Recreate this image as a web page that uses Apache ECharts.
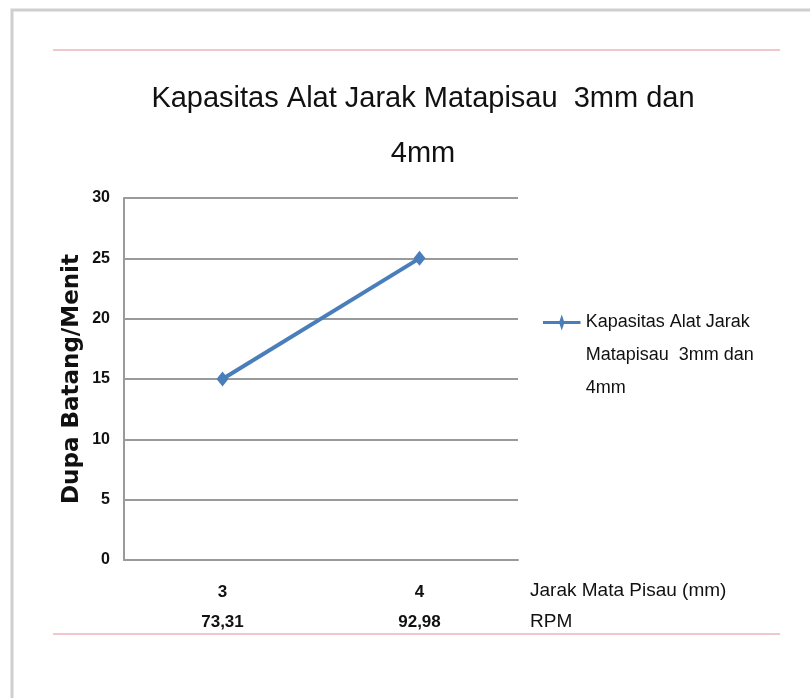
<!DOCTYPE html>
<html>
<head>
<meta charset="utf-8">
<script src="https://cdn.jsdelivr.net/npm/echarts@6/dist/echarts.min.js"></script>
<style>
  html, body { margin: 0; padding: 0; background: #fff; }
  #chart { width: 810px; height: 698px; }
</style>
</head>
<body>
<div id="chart"></div>
<script>
// data
var jarakMm = ['3', '4'];
var rpm = ['73,31', '92,98'];
var kapasitas = [15, 25];
var seriesName = 'Kapasitas Alat Jarak Matapisau  3mm dan 4mm';

var narrow = '"Liberation Sans Narrow", "Arial Narrow", "Liberation Sans", sans-serif';

var chart = echarts.init(document.getElementById('chart'));

var option = {
  backgroundColor: '#fff',
  animation: false,
  title: {
    text: 'Kapasitas Alat Jarak Matapisau  3mm dan\n4mm',
    left: 418,
    textAlign: 'center',
    top: 66,
    textStyle: {
      fontFamily: narrow,
      fontSize: 29,
      fontWeight: 'normal',
      color: '#111',
      lineHeight: 55
    }
  },
  legend: {
    left: 538,
    top: 235,
    itemWidth: 38,
    itemHeight: 16,
    itemGap: 0,
    data: [{ name: seriesName, icon: 'path://M0,7 L15,7 L17,1 L19,7 L34,7 L34,9.5 L19,9.5 L17,15.5 L15,9.5 L0,9.5 Z' }],
    // two leading empty lines so the first text line sits beside the icon
    formatter: function () {
      return '\n\nKapasitas Alat Jarak\nMatapisau  3mm dan\n4mm';
    },
    textStyle: {
      fontFamily: narrow,
      fontSize: 18,
      color: '#111',
      lineHeight: 33
    }
  },
  grid: {
    left: 124,
    right: 292,
    top: 198,
    bottom: 138
  },
  xAxis: {
    type: 'category',
    data: jarakMm,
    boundaryGap: true,
    axisLine: { lineStyle: { color: '#9a9a9a', width: 2 } },
    axisTick: { show: false },
    axisLabel: {
      margin: 17,
      fontFamily: narrow,
      fontWeight: 'bold',
      fontSize: 17,
      color: '#111',
      lineHeight: 30,
      formatter: function (v, i) { return v + '\n' + rpm[i]; }
    },
    name: '\n\n\nJarak Mata Pisau (mm)\nRPM',
    nameLocation: 'end',
    nameGap: 12,
    nameTextStyle: {
      fontFamily: narrow,
      fontSize: 19,
      color: '#111',
      lineHeight: 31
    }
  },
  yAxis: {
    type: 'value',
    min: 0,
    max: 30,
    interval: 5,
    axisLine: { show: true, lineStyle: { color: '#9a9a9a', width: 2 } },
    axisTick: { show: false },
    splitLine: { lineStyle: { color: '#9a9a9a', width: 2 } },
    axisLabel: {
      margin: 14,
      fontFamily: narrow,
      fontWeight: 'bold',
      fontSize: 16,
      color: '#111'
    },
    name: 'Dupa Batang/Menit',
    nameLocation: 'middle',
    nameGap: 40,
    nameTextStyle: {
      fontFamily: '"DejaVu Sans", Verdana, sans-serif',
      fontWeight: 'bold',
      fontSize: 23,
      color: '#111'
    }
  },
  series: [{
    name: seriesName,
    type: 'line',
    data: kapasitas,
    symbol: 'diamond',
    symbolSize: [12, 15],
    lineStyle: { color: '#4a7ebb', width: 4 },
    itemStyle: { color: '#4a7ebb' }
  }],
  graphic: [
    // photo frame
    { type: 'rect', shape: { x: 12, y: 10, width: 820, height: 690 },
      style: { fill: 'none', stroke: '#cfcfcf', lineWidth: 3 }, z: 0 },
    // pink rules
    { type: 'line', shape: { x1: 53, y1: 50, x2: 780, y2: 50 },
      style: { stroke: '#f0c8cc', lineWidth: 2 } },
    { type: 'line', shape: { x1: 53, y1: 634, x2: 780, y2: 634 },
      style: { stroke: '#f0c8cc', lineWidth: 2 } }
  ]
};

chart.setOption(option);
</script>
</body>
</html>
